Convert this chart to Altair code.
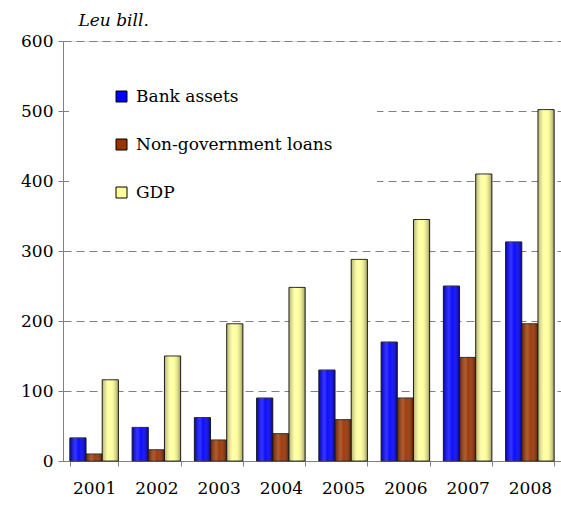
import altair as alt
import pandas as pd

years = ["2001", "2002", "2003", "2004", "2005", "2006", "2007", "2008"]
series = ["Bank assets", "Non-government loans", "GDP"]
bank_assets = [33, 48, 62, 90, 130, 170, 250, 313]
nongov_loans = [10, 16, 30, 39, 59, 90, 148, 196]
gdp = [116, 150, 196, 248, 288, 345, 410, 502]
colors = ["#0000FF", "#993300", "#FFFF99"]

rows = []
for name, vals in zip(series, [bank_assets, nongov_loans, gdp]):
    for y, v in zip(years, vals):
        rows.append({"year": y, "series": name, "value": v})
df = pd.DataFrame(rows)

FONT = "DejaVu Serif"

x_enc = alt.X(
    "year:N",
    sort=years,
    scale=alt.Scale(paddingInner=0.22, paddingOuter=0.11),
    axis=alt.Axis(
        title=None, labelAngle=0, tickBand="extent", tickSize=5,
        labelPadding=14, labelFontSize=17, labelFont=FONT, labelColor="black",
        domainColor="#808080", tickColor="#808080", grid=False,
    ),
)
y_enc = alt.Y(
    "value:Q",
    scale=alt.Scale(domain=[0, 600]),
    axis=alt.Axis(
        values=[0, 100, 200, 300, 400, 500, 600], tickSize=5, labelPadding=5,
        labelFontSize=17, labelFont=FONT, labelColor="black",
        domainColor="#808080", tickColor="#808080",
        grid=True, gridColor="#808080", gridDash=[8, 5], gridWidth=1,
        title="Leu bill.", titleAngle=0, titleX=15, titleY=-16,
        titleAlign="left", titleBaseline="alphabetic", titleFont=FONT,
        titleFontSize=17, titleFontStyle="italic", titleFontWeight="normal",
        titleColor="black",
    ),
)
xo = alt.XOffset("series:N", sort=series, scale=alt.Scale(domain=series))

bars = alt.Chart(df).mark_bar(stroke="#222222", strokeWidth=1).encode(
    x=x_enc, y=y_enc, xOffset=xo,
    color=alt.Color(
        "series:N", sort=series,
        scale=alt.Scale(domain=series, range=colors),
        legend=alt.Legend(
            title=None, orient="none", legendX=6, legendY=3,
            direction="vertical", fillColor="white", padding=44,
            symbolType="square", symbolSize=121, symbolStrokeColor="black",
            symbolStrokeWidth=1, labelFont=FONT, labelFontSize=17,
            labelColor="black", labelOffset=6, rowPadding=30, labelLimit=400,
        ),
    ),
)

shade = alt.Chart(df).mark_bar(
    strokeWidth=0,
    fill=alt.Gradient(
        gradient="linear", x1=0, x2=1, y1=0, y2=0,
        stops=[
            alt.GradientStop(color="rgba(0,0,0,0.3)", offset=0),
            alt.GradientStop(color="rgba(255,255,255,0.2)", offset=0.35),
            alt.GradientStop(color="rgba(255,255,255,0.05)", offset=0.55),
            alt.GradientStop(color="rgba(0,0,0,0.4)", offset=1),
        ],
    ),
).encode(x=x_enc, y=y_enc, xOffset=xo)

chart = alt.layer(bars, shade).properties(
    width=498, height=420,
    padding={"left": 63, "top": 41, "right": 0, "bottom": 44},
    autosize=alt.AutoSizeParams(type="none"),
).configure_view(stroke=None).configure(background="white", font=FONT)

chart.save("out.html", embed_options={"renderer": "svg", "actions": False})
